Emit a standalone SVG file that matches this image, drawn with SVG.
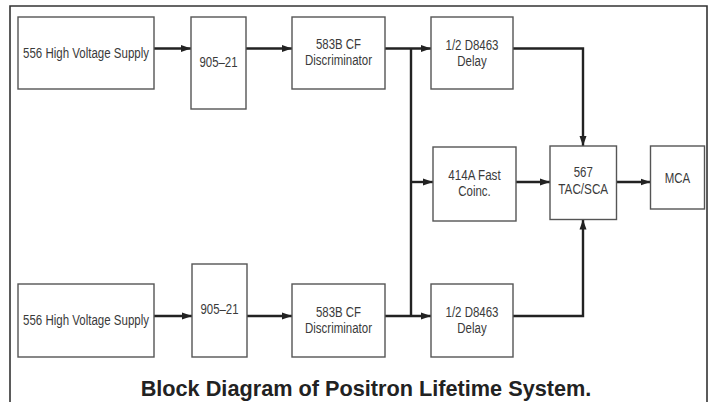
<svg xmlns="http://www.w3.org/2000/svg" width="714" height="402" viewBox="0 0 714 402">
<defs>
<style>
.box{fill:#fff;stroke:#555;stroke-width:1.4}
.lbl{font-family:"Liberation Sans",Arial,sans-serif;font-size:14px;fill:#3a3a3a;text-anchor:middle}
.cap{font-family:"Liberation Sans",Arial,sans-serif;font-weight:bold;font-size:21.7px;fill:#222;text-anchor:middle}
.wire{fill:none;stroke:#222;stroke-width:2.4}
.arr{marker-end:url(#ah)}
.frame{fill:none;stroke:#333;stroke-width:1.6}
</style>
<marker id="ah" markerUnits="userSpaceOnUse" markerWidth="10" markerHeight="8" refX="10" refY="4" orient="auto">
<path d="M0,0.5 L10,4 L0,7.5 z" fill="#222"/>
</marker>
</defs>
<rect width="714" height="402" fill="#fff"/>
<path class="frame" d="M10,410 V6 H707 V410"/>
<g id="connectors">
<line class="wire arr" x1="154" y1="48.5" x2="191" y2="48.5"/>
<line class="wire arr" x1="246" y1="48.5" x2="292" y2="48.5"/>
<line class="wire arr" x1="385" y1="48.5" x2="431" y2="48.5"/>
<line class="wire" x1="411" y1="48.5" x2="411" y2="316"/>
<line class="wire arr" x1="411" y1="182" x2="433" y2="182"/>
<path class="wire arr" d="M513,48.5 H583 V146"/>
<line class="wire arr" x1="516" y1="182" x2="550" y2="182"/>
<line class="wire arr" x1="616.5" y1="182" x2="650.5" y2="182"/>
<line class="wire arr" x1="154" y1="316" x2="192" y2="316"/>
<line class="wire arr" x1="247" y1="316" x2="292" y2="316"/>
<line class="wire arr" x1="385" y1="316" x2="431" y2="316"/>
<path class="wire arr" d="M513,316 H583 V219.5"/>
</g>
<g id="hv1"><rect class="box" x="18" y="17" width="136" height="72"/><text class="lbl" x="86" y="57.5" textLength="126" lengthAdjust="spacingAndGlyphs">556 High Voltage Supply</text></g>
<g id="pmt1"><rect class="box" x="191" y="17" width="55" height="92"/><text class="lbl" x="218.5" y="67" textLength="38" lengthAdjust="spacingAndGlyphs">905–21</text></g>
<g id="cfd1"><rect class="box" x="292" y="17" width="93" height="72"/><text class="lbl" x="338.5" y="48.5" textLength="45" lengthAdjust="spacingAndGlyphs">583B CF</text><text class="lbl" x="338.5" y="64.5" textLength="67" lengthAdjust="spacingAndGlyphs">Discriminator</text></g>
<g id="delay1"><rect class="box" x="431" y="17" width="82" height="72"/><text class="lbl" x="472" y="49.5" textLength="53" lengthAdjust="spacingAndGlyphs">1/2 D8463</text><text class="lbl" x="472" y="65.5" textLength="29.3" lengthAdjust="spacingAndGlyphs">Delay</text></g>
<g id="coinc"><rect class="box" x="433" y="147" width="83" height="74"/><text class="lbl" x="474.5" y="179.5" textLength="52.3" lengthAdjust="spacingAndGlyphs">414A Fast</text><text class="lbl" x="474.5" y="195.5" textLength="32.5" lengthAdjust="spacingAndGlyphs">Coinc.</text></g>
<g id="tac"><rect class="box" x="550" y="146" width="66.5" height="73.5"/><text class="lbl" x="583.25" y="177" textLength="19.1" lengthAdjust="spacingAndGlyphs">567</text><text class="lbl" x="583.25" y="194" textLength="49.8" lengthAdjust="spacingAndGlyphs">TAC/SCA</text></g>
<g id="mca"><rect class="box" x="650.5" y="146" width="54" height="63"/><text class="lbl" x="677.5" y="182.5" textLength="25.5" lengthAdjust="spacingAndGlyphs">MCA</text></g>
<g id="hv2"><rect class="box" x="18" y="284" width="136" height="73"/><text class="lbl" x="86" y="325" textLength="126" lengthAdjust="spacingAndGlyphs">556 High Voltage Supply</text></g>
<g id="pmt2"><rect class="box" x="192" y="264" width="55" height="93"/><text class="lbl" x="219.5" y="314" textLength="38" lengthAdjust="spacingAndGlyphs">905–21</text></g>
<g id="cfd2"><rect class="box" x="292" y="284" width="93" height="73"/><text class="lbl" x="338.5" y="316.5" textLength="45" lengthAdjust="spacingAndGlyphs">583B CF</text><text class="lbl" x="338.5" y="332.5" textLength="67" lengthAdjust="spacingAndGlyphs">Discriminator</text></g>
<g id="delay2"><rect class="box" x="431" y="284" width="82" height="73"/><text class="lbl" x="472" y="316.5" textLength="53" lengthAdjust="spacingAndGlyphs">1/2 D8463</text><text class="lbl" x="472" y="332.5" textLength="29.3" lengthAdjust="spacingAndGlyphs">Delay</text></g>
<text class="cap" x="366" y="396">Block Diagram of Positron Lifetime System.</text>
</svg>
